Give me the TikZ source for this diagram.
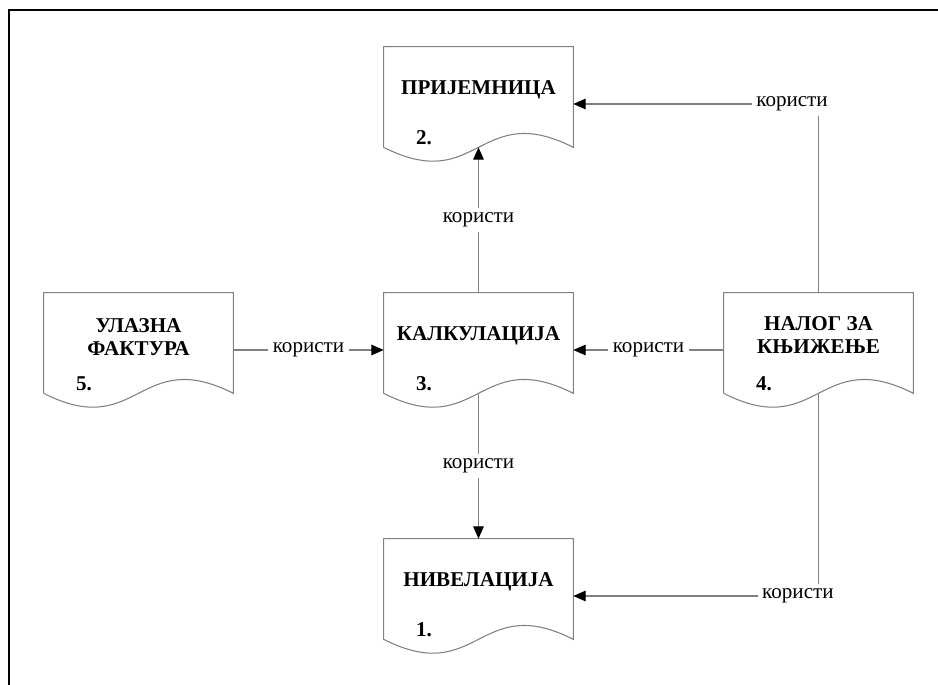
\documentclass[tikz,border=0pt]{standalone}
\usepackage{fontspec}
\setmainfont{Liberation Serif}
\usetikzlibrary{arrows.meta}

\definecolor{linija}{RGB}{128,128,128}

\tikzset{
	dok/.style={minimum width=3.78cm, minimum height=2.28cm, inner sep=0pt},
	naslov/.style={font=\fontsize{12}{12.8}\selectfont\bfseries, align=center},
	broj/.style={font=\fontsize{12}{12.8}\selectfont\bfseries, anchor=west, inner sep=0pt},
	koristi/.style={font=\fontsize{12}{12.8}\selectfont, fill=white, inner sep=2.5pt},
	okvir/.style={draw=linija, line width=0.6pt},
	veza/.style={draw=linija, line width=0.6pt, -{Triangle[length=7pt,width=6pt,color=black]}}
}

\begin{document}
\begin{tikzpicture}[x=0.02cm, y=-0.02cm]
	\useasboundingbox (0,0) rectangle (938,685);
	\draw[line width=1.3pt] (9,685) -- (9,10) -- (938,10);
	
	% documents
	\node[dok] (prij) at (478.5,104) {};
	\node[dok] (kalk) at (478.5,350) {};
	\node[dok] (nivel) at (478.5,596) {};
	\node[dok] (ulaz) at (138.5,350) {};
	\node[dok] (nalog) at (818.5,350) {};
	
	\foreach \n in {prij,kalk,nivel,ulaz,nalog}{
		\draw[okvir] ([yshift=0.28cm]\n.south west) -- (\n.north west) -- (\n.north east)
			-- ([yshift=0.28cm]\n.south east)
			.. controls ([yshift=1.24cm]\n.south) and ([yshift=-0.68cm]\n.south) .. ([yshift=0.28cm]\n.south west);
		\coordinate (\n-w) at ([yshift=0.28cm]\n.south);
	}
	
	\node[naslov] (prij-t) at ([yshift=0.28cm]prij.center) {ПРИЈЕМНИЦА};
	\node[naslov] (kalk-t) at ([yshift=0.28cm]kalk.center) {КАЛКУЛАЦИЈА};
	\node[naslov] (nivel-t) at ([yshift=0.28cm]nivel.center) {НИВЕЛАЦИЈА};
	\node[naslov] (ulaz-t) at ([yshift=0.26cm]ulaz.center) {УЛАЗНА\\ФАКТУРА};
	\node[naslov] (nalog-t) at ([yshift=0.3cm]nalog.center) {НАЛОГ ЗА\\КЊИЖЕЊЕ};
	
	\node[broj] (nivel-b) at ([xshift=0.64cm,yshift=0.48cm]nivel.south west) {1.};
	\node[broj] (prij-b) at ([xshift=0.64cm,yshift=0.48cm]prij.south west) {2.};
	\node[broj] (kalk-b) at ([xshift=0.64cm,yshift=0.48cm]kalk.south west) {3.};
	\node[broj] (nalog-b) at ([xshift=0.64cm,yshift=0.48cm]nalog.south west) {4.};
	\node[broj] (ulaz-b) at ([xshift=0.64cm,yshift=0.48cm]ulaz.south west) {5.};
	
	% connectors
	\draw[veza] (ulaz.east) -- node[koristi] (k1) {користи} (kalk.west);
	\draw[veza] (nalog.west) -- node[koristi] (k2) {користи} (kalk.east);
	\draw[veza] (kalk.north) -- node[koristi] (k3) {користи} (prij-w);
	\draw[veza] (kalk-w) -- node[koristi] (k4) {користи} (nivel.north);
	\draw[veza] (nalog.north) |- node[koristi, pos=0.554] (k5) {користи} (prij.east);
	\draw[veza] (nalog-w) |- node[koristi, pos=0.542] (k6) {користи} (nivel.east);
\end{tikzpicture}
\end{document}
